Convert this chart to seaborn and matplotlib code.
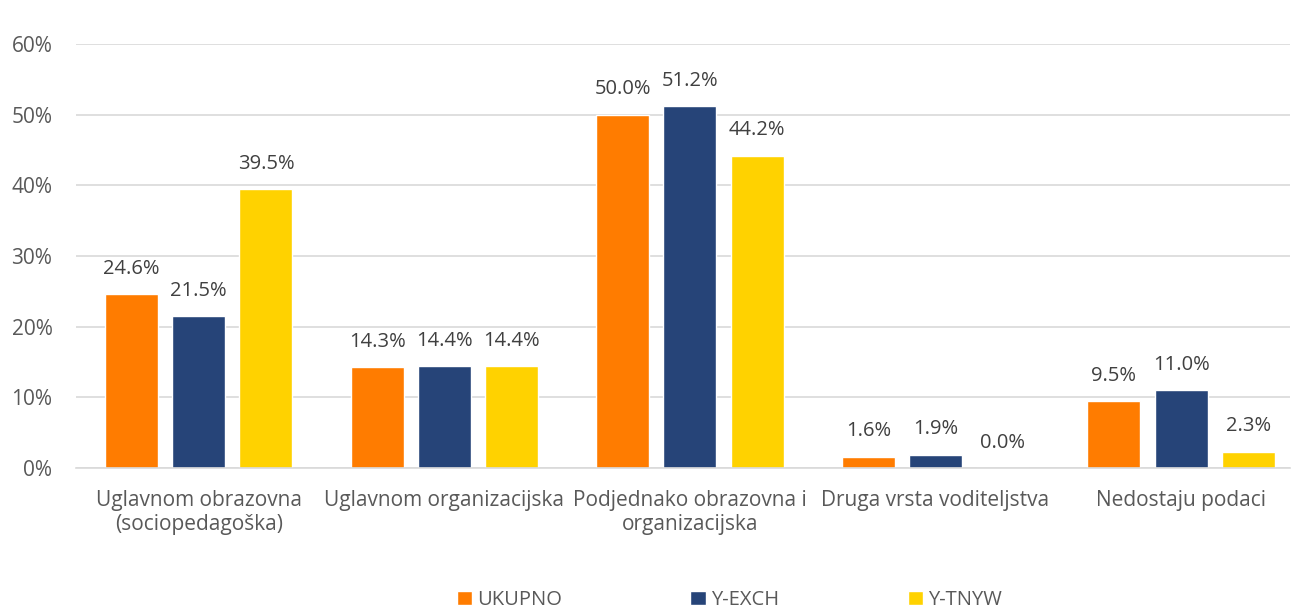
import matplotlib
matplotlib.use("Agg")
import matplotlib.pyplot as plt
import seaborn as sns
import pandas as pd
from matplotlib.ticker import PercentFormatter
from matplotlib.patches import Patch

categories = ["Uglavnom obrazovna\n(sociopedagoška)", "Uglavnom organizacijska",
              "Podjednako obrazovna i\norganizacijska", "Druga vrsta voditeljstva",
              "Nedostaju podaci"]
series = ["UKUPNO", "Y-EXCH", "Y-TNYW"]
ukupno = [24.6, 14.3, 50.0, 1.6, 9.5]
yexch = [21.5, 14.4, 51.2, 1.9, 11.0]
ytnyw = [39.5, 14.4, 44.2, 0.0, 2.3]
colors = ["#FF7C00", "#264478", "#FFD200"]

rows = []
for s, vals in zip(series, [ukupno, yexch, ytnyw]):
    for c, v in zip(categories, vals):
        rows.append({"cat": c, "series": s, "val": v})
df = pd.DataFrame(rows)

sns.set_theme(style="white")
plt.rcParams['font.family'] = ['Open Sans', 'DejaVu Sans']
txt = "#595959"
fs = 14.5

fig = plt.figure(figsize=(12.95, 6.11), dpi=100)
ax = fig.add_axes([0.0587, 0.234, 0.9375, 0.694])
sns.barplot(data=df, x="cat", y="val", hue="series", palette=colors,
            width=0.82, gap=0.21, ax=ax, legend=False, saturation=1)

for cont in ax.containers:
    ax.bar_label(cont, labels=[f"{b.get_height():.1f}%" for b in cont],
                 padding=11, fontsize=fs, color="#404040")

ax.set_ylim(0, 60)
ax.set_yticks(range(0, 61, 10))
ax.yaxis.set_major_formatter(PercentFormatter(decimals=0))
ax.grid(axis="y", color="#D9D9D9", linewidth=1.2)
ax.set_axisbelow(True)
for sp in ["top", "right", "left"]:
    ax.spines[sp].set_visible(False)
ax.spines["bottom"].set_color("#D9D9D9")
ax.spines["bottom"].set_linewidth(1.2)
ax.set_xlabel("")
ax.set_ylabel("")
ax.tick_params(axis="both", length=0, colors=txt)
ax.tick_params(axis="x", labelsize=15, pad=16)
ax.tick_params(axis="y", labelsize=15, pad=17)
for lab in ax.get_xticklabels():
    lab.set_linespacing(1.15)
ax.set_xlim(-0.5, 4.444)

handles = [Patch(facecolor=c, label=s) for c, s in zip(colors, series)]
fig.legend(handles=handles, loc="lower center", bbox_to_anchor=(0.563, -0.028),
           ncol=3, frameon=False, fontsize=fs, labelcolor=txt,
           handlelength=0.75, handleheight=0.75, handletextpad=0.25, columnspacing=6.4)

fig.savefig("out.png", dpi=100)
